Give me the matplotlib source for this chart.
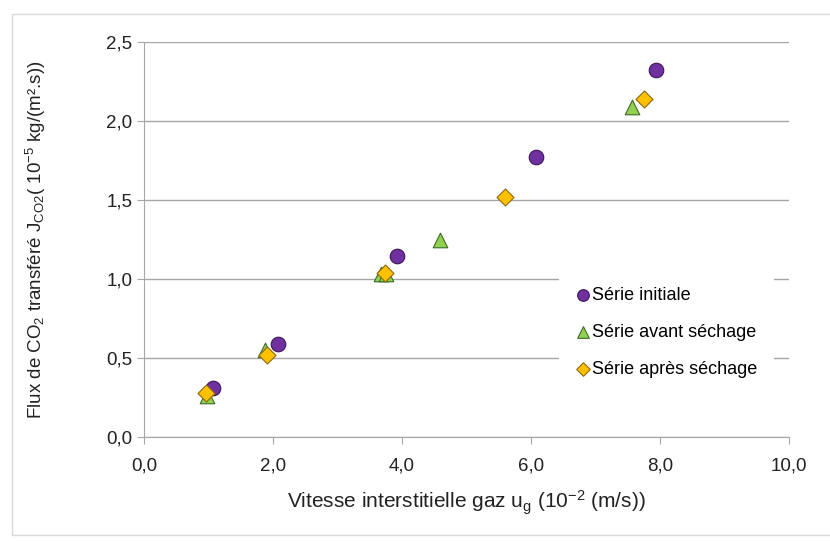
import matplotlib.pyplot as plt
from matplotlib.patches import Rectangle

plt.rcParams['font.family'] = ['Liberation Sans', 'DejaVu Sans']
plt.rcParams['mathtext.fontset'] = 'custom'
plt.rcParams['mathtext.rm'] = 'Liberation Sans'

# data
x_initiale = [1.07, 2.08, 3.92, 6.08, 7.94]
y_initiale = [0.31, 0.59, 1.145, 1.77, 2.32]

x_avant = [0.97, 1.88, 3.68, 3.76, 4.59, 7.57]
y_avant = [0.26, 0.55, 1.03, 1.03, 1.25, 2.09]

x_apres = [0.96, 1.91, 3.74, 5.60, 7.75]
y_apres = [0.28, 0.52, 1.04, 1.52, 2.14]

x_ticks = [0, 2, 4, 6, 8, 10]
y_ticks = [0, 0.5, 1.0, 1.5, 2.0, 2.5]


def fr(v, fmt="{:.1f}"):
    return fmt.format(v).replace(".", ",")


fig = plt.figure(figsize=(8.3, 5.41), dpi=100)
ax = fig.add_axes([0.1735, 0.1922, 0.777, 0.7302])

# outer chart border
fig.patches.append(Rectangle((12 / 830, 6 / 541), 1.0, 0.963,
                             transform=fig.transFigure, fill=False,
                             edgecolor="#d9d9d9", linewidth=1.0))

ax.scatter(x_initiale, y_initiale, s=110, marker="o", color="#7030A0",
           edgecolor="#3b1657", linewidth=0.8, zorder=3, label="Série initiale")
ax.scatter(x_avant, y_avant, s=110, marker="^", color="#92D050",
           edgecolor="#3f6a25", linewidth=0.8, zorder=3, label="Série avant séchage")
ax.scatter(x_apres, y_apres, s=75, marker="D", color="#FFC000",
           edgecolor="#8a6a10", linewidth=0.8, zorder=4, label="Série après séchage")

ax.set_xlim(0, 10)
ax.set_ylim(0, 2.5)
ax.set_xticks(x_ticks)
ax.set_xticklabels([fr(v) for v in x_ticks])
ax.set_yticks(y_ticks)
ax.set_yticklabels([fr(v) for v in y_ticks])

ax.yaxis.grid(True, color="#a6a6a6", linewidth=1.0)
ax.set_axisbelow(True)
for side in ["top", "right"]:
    ax.spines[side].set_visible(False)
for side in ["left", "bottom"]:
    ax.spines[side].set_color("#a6a6a6")
ax.tick_params(axis="both", colors="#a6a6a6", labelcolor="#222222",
               labelsize=13.5, length=5)
ax.tick_params(axis="x", pad=10)

ax.set_xlabel(r"Vitesse interstitielle gaz u$\mathregular{_g}$ (10$\mathregular{^{-2}}$ (m/s))",
              fontsize=15, labelpad=10, color="#222222")
ax.set_ylabel(r"Flux de CO$\mathregular{_2}$ transféré J$\mathregular{_{CO2}}$"
              r"( 10$\mathregular{^{-5}}$ kg/(m².s))",
              fontsize=13.5, labelpad=42, color="#222222")

leg = ax.legend(loc="center", bbox_to_anchor=(0.81, 0.265), frameon=True,
                fontsize=13, labelspacing=1.1, handletextpad=0.05,
                handlelength=0.9, borderpad=0.9, fancybox=False, markerscale=0.8)
leg.get_frame().set_edgecolor("none")
leg.get_frame().set_facecolor("white")
leg.get_frame().set_alpha(1.0)

fig.savefig("out.png", dpi=100)
